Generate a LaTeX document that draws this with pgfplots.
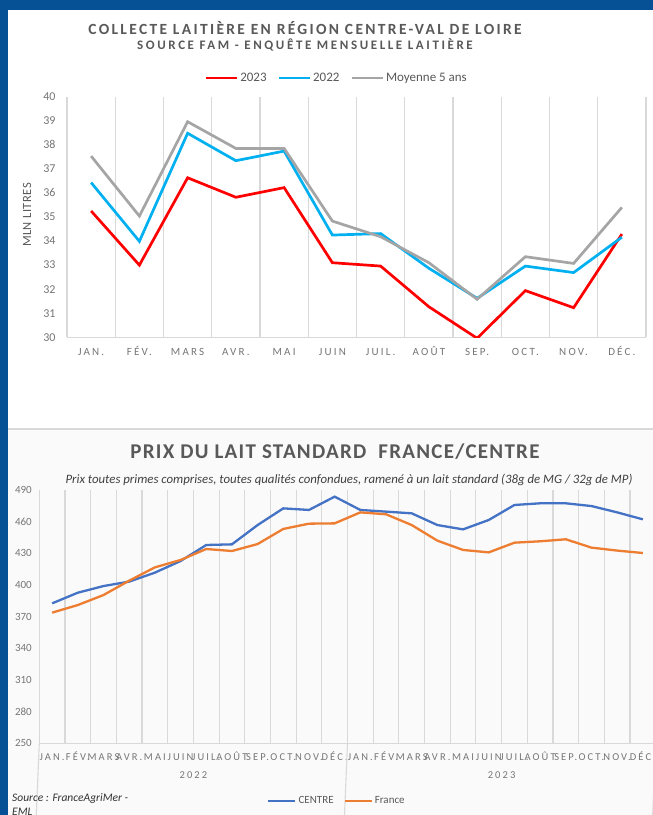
\documentclass[border=0pt]{standalone}
\usepackage{fontspec}
\setmainfont{Carlito}
\newfontfamily\spacedA[LetterSpace=20]{Carlito}
\newfontfamily\spacedT[LetterSpace=15]{Carlito}
\newfontfamily\spacedS[LetterSpace=20]{Carlito}
\newfontfamily\spacedB[LetterSpace=6]{Carlito}
\newfontfamily\spacedL[LetterSpace=4]{Carlito}
\usepackage{pgfplots}
\usepackage{pgfplotstable}
\pgfplotsset{compat=1.18}
\definecolor{frameblue}{RGB}{6,80,150}
\definecolor{txtgray}{RGB}{89,89,89}
\definecolor{tickgray}{RGB}{118,118,118}
\definecolor{gridgray}{RGB}{217,217,217}
\definecolor{c23}{RGB}{255,0,0}
\definecolor{c22}{RGB}{0,176,240}
\definecolor{cmoy}{RGB}{165,165,165}
\definecolor{ccentre}{RGB}{68,114,196}
\definecolor{cfrance}{RGB}{237,125,49}

\pgfplotstableread{
x y23 y22 ymoy
1 35.25 36.43 37.53
2 33.00 33.99 35.04
3 36.63 38.48 38.96
4 35.82 37.34 37.85
5 36.22 37.74 37.85
6 33.10 34.25 34.83
7 32.96 34.31 34.18
8 31.27 32.87 33.10
9 29.96 31.62 31.58
10 31.94 32.96 33.35
11 31.23 32.69 33.07
12 34.29 34.16 35.40
}\collecte

\pgfplotstableread{
x centre france
1 382.6 373.8
2 392.7 381.0
3 399.0 390.5
4 403.2 404.1
5 411.7 416.7
6 422.7 423.7
7 437.9 434.1
8 438.5 432.2
9 456.8 438.8
10 472.6 453.1
11 471.1 458.1
12 483.7 458.4
13 471.1 468.8
14 469.5 467.0
15 467.9 456.8
16 456.8 442.0
17 452.7 433.2
18 461.6 430.9
19 475.8 440.1
20 477.4 441.4
21 477.4 443.3
22 474.8 435.4
23 468.8 432.6
24 462.2 430.3
}\prix

\begin{document}
\begin{tikzpicture}[x=1pt,y=1pt]
\path[use as bounding box] (0,0) rectangle (653,815);
\fill[frameblue] (0,0) rectangle (653,815);
\fill[white] (8,0) rectangle (653,805);
\fill[black!2] (8,0) rectangle (653,386);
\draw[gridgray, line width=1.2pt] (8,386) -- (653,386);

% ---- top chart titles
\node[text=txtgray, font={\spacedT\bfseries\fontsize{15.5}{17}\selectfont}] at (305,787) {COLLECTE LAITIÈRE EN RÉGION CENTRE-VAL DE LOIRE};
\node[text=txtgray, font={\spacedS\bfseries\fontsize{13}{15}\selectfont}] at (305,770) {SOURCE FAM - ENQUÊTE MENSUELLE LAITIÈRE};

\begin{axis}[
  at={(67pt,477.7pt)}, anchor=south west,
  scale only axis, width=579pt, height=240.6pt,
  xmin=0.5, xmax=12.5, ymin=30, ymax=40,
  ytick={30,31,...,40},
  xtick={1,...,12},
  xticklabels={JAN.,FÉV.,MARS,AVR.,MAI,JUIN,JUIL.,AOÛT,SEP.,OCT.,NOV.,DÉC.},
  minor xtick={0.5,1.5,...,12.5},
  xminorgrids,
  minor grid style={gridgray, line width=1.1pt},
  axis x line*=bottom, axis y line*=left,
  x axis line style={gridgray, line width=1.1pt},
  y axis line style={draw=none},
  major tick length=0pt, minor tick length=0pt,
  /pgf/number format/assume math mode=true,
  yticklabel style={font={\fontsize{12}{14}\selectfont}, text=tickgray, xshift=-8pt},
  xticklabel style={font={\spacedA\fontsize{11}{13}\selectfont}, text=tickgray, anchor=base, yshift=-18.5pt},
  ylabel={MLN LITRES},
  ylabel style={font={\spacedL\fontsize{12.5}{14}\selectfont}, text=txtgray, at={(-0.069,0.508)}, anchor=center},
  legend columns=3,
  legend style={at={(0.466,1.077)}, anchor=center, draw=none, fill=none,
    font={\fontsize{13}{15}\selectfont}, text=txtgray,
    /tikz/every even column/.append style={column sep=9pt}},
  legend image code/.code={\draw[#1, line width=2.5pt] (0pt,0pt) -- (31pt,0pt);},
]
\addplot[c23, line width=2.7pt] table[x=x, y=y23] {\collecte};
\addlegendentry{2023}
\addplot[c22, line width=2.7pt] table[x=x, y=y22] {\collecte};
\addlegendentry{2022}
\addplot[cmoy, line width=2.7pt] table[x=x, y=ymoy] {\collecte};
\addlegendentry{Moyenne 5 ans}
\end{axis}

% ---- bottom chart titles
\node[text=txtgray, font={\spacedB\bfseries\fontsize{21}{24}\selectfont}] at (335,363) {PRIX DU LAIT STANDARD\ \ FRANCE/CENTRE};
\node[text=black!75, font={\itshape\fontsize{12.8}{14}\selectfont}] at (349,335) {Prix toutes primes comprises, toutes qualités confondues, ramené à un lait standard (38g de MG / 32g de MP)};

\begin{axis}[
  at={(39.3pt,71.7pt)}, anchor=south west,
  scale only axis, width=616.4pt, height=253.3pt,
  xmin=0.5, xmax=24.5, ymin=250, ymax=490,
  ytick={250,280,...,490},
  xtick={1,...,24},
  xticklabels={JAN.,FÉV.,MARS,AVR.,MAI,JUIN,JUIL.,AOÛT,SEP.,OCT.,NOV.,DÉC.,JAN.,FÉV.,MARS,AVR.,MAI,JUIN,JUIL.,AOÛT,SEP.,OCT.,NOV.,DÉC.},
  minor xtick={0.5,1.5,...,24.5},
  xminorgrids,
  minor grid style={gridgray, line width=1.1pt},
  axis x line*=bottom, axis y line*=left,
  x axis line style={gridgray, line width=1.1pt},
  y axis line style={draw=none},
  major tick length=0pt, minor tick length=0pt,
  clip=false,
  /pgf/number format/assume math mode=true,
  yticklabel style={font={\fontsize{11}{13}\selectfont}, text=tickgray, xshift=-4pt},
  xticklabel style={font={\spacedA\fontsize{10.5}{12}\selectfont}, text=tickgray, anchor=base, yshift=-17.5pt},
  legend columns=2,
  legend style={at={(0.483,-0.228)}, anchor=center, draw=none, fill=none,
    font={\fontsize{11}{13}\selectfont}, text=txtgray,
    /tikz/every even column/.append style={column sep=8pt}},
  legend image code/.code={\draw[#1, line width=2.2pt] (0pt,0pt) -- (27pt,0pt);},
]
\addplot[ccentre, line width=2.3pt] table[x=x, y=centre] {\prix};
\addlegendentry{CENTRE}
\addplot[cfrance, line width=2.3pt] table[x=x, y=france] {\prix};
\addlegendentry{France}
\draw[gridgray, line width=1.1pt] (axis cs:0.5,250) -- ++(0,-42pt);
\draw[gridgray, line width=1.1pt] (axis cs:12.5,250) -- ++(0,-42pt);
\draw[gridgray, line width=1.1pt] (axis cs:24.5,250) -- ++(0,-42pt);
\node[text=tickgray, font={\spacedA\fontsize{10.5}{12}\selectfont}] at ([yshift=-32pt]axis cs:6.5,250) {2022};
\node[text=tickgray, font={\spacedA\fontsize{10.5}{12}\selectfont}] at ([yshift=-32pt]axis cs:18.5,250) {2023};
\end{axis}

\node[anchor=north west, align=left, text=black!80, font={\itshape\fontsize{11.5}{14}\selectfont}, inner sep=0pt] at (12,22) {Source : FranceAgriMer -\\EML};
\end{tikzpicture}
\end{document}
